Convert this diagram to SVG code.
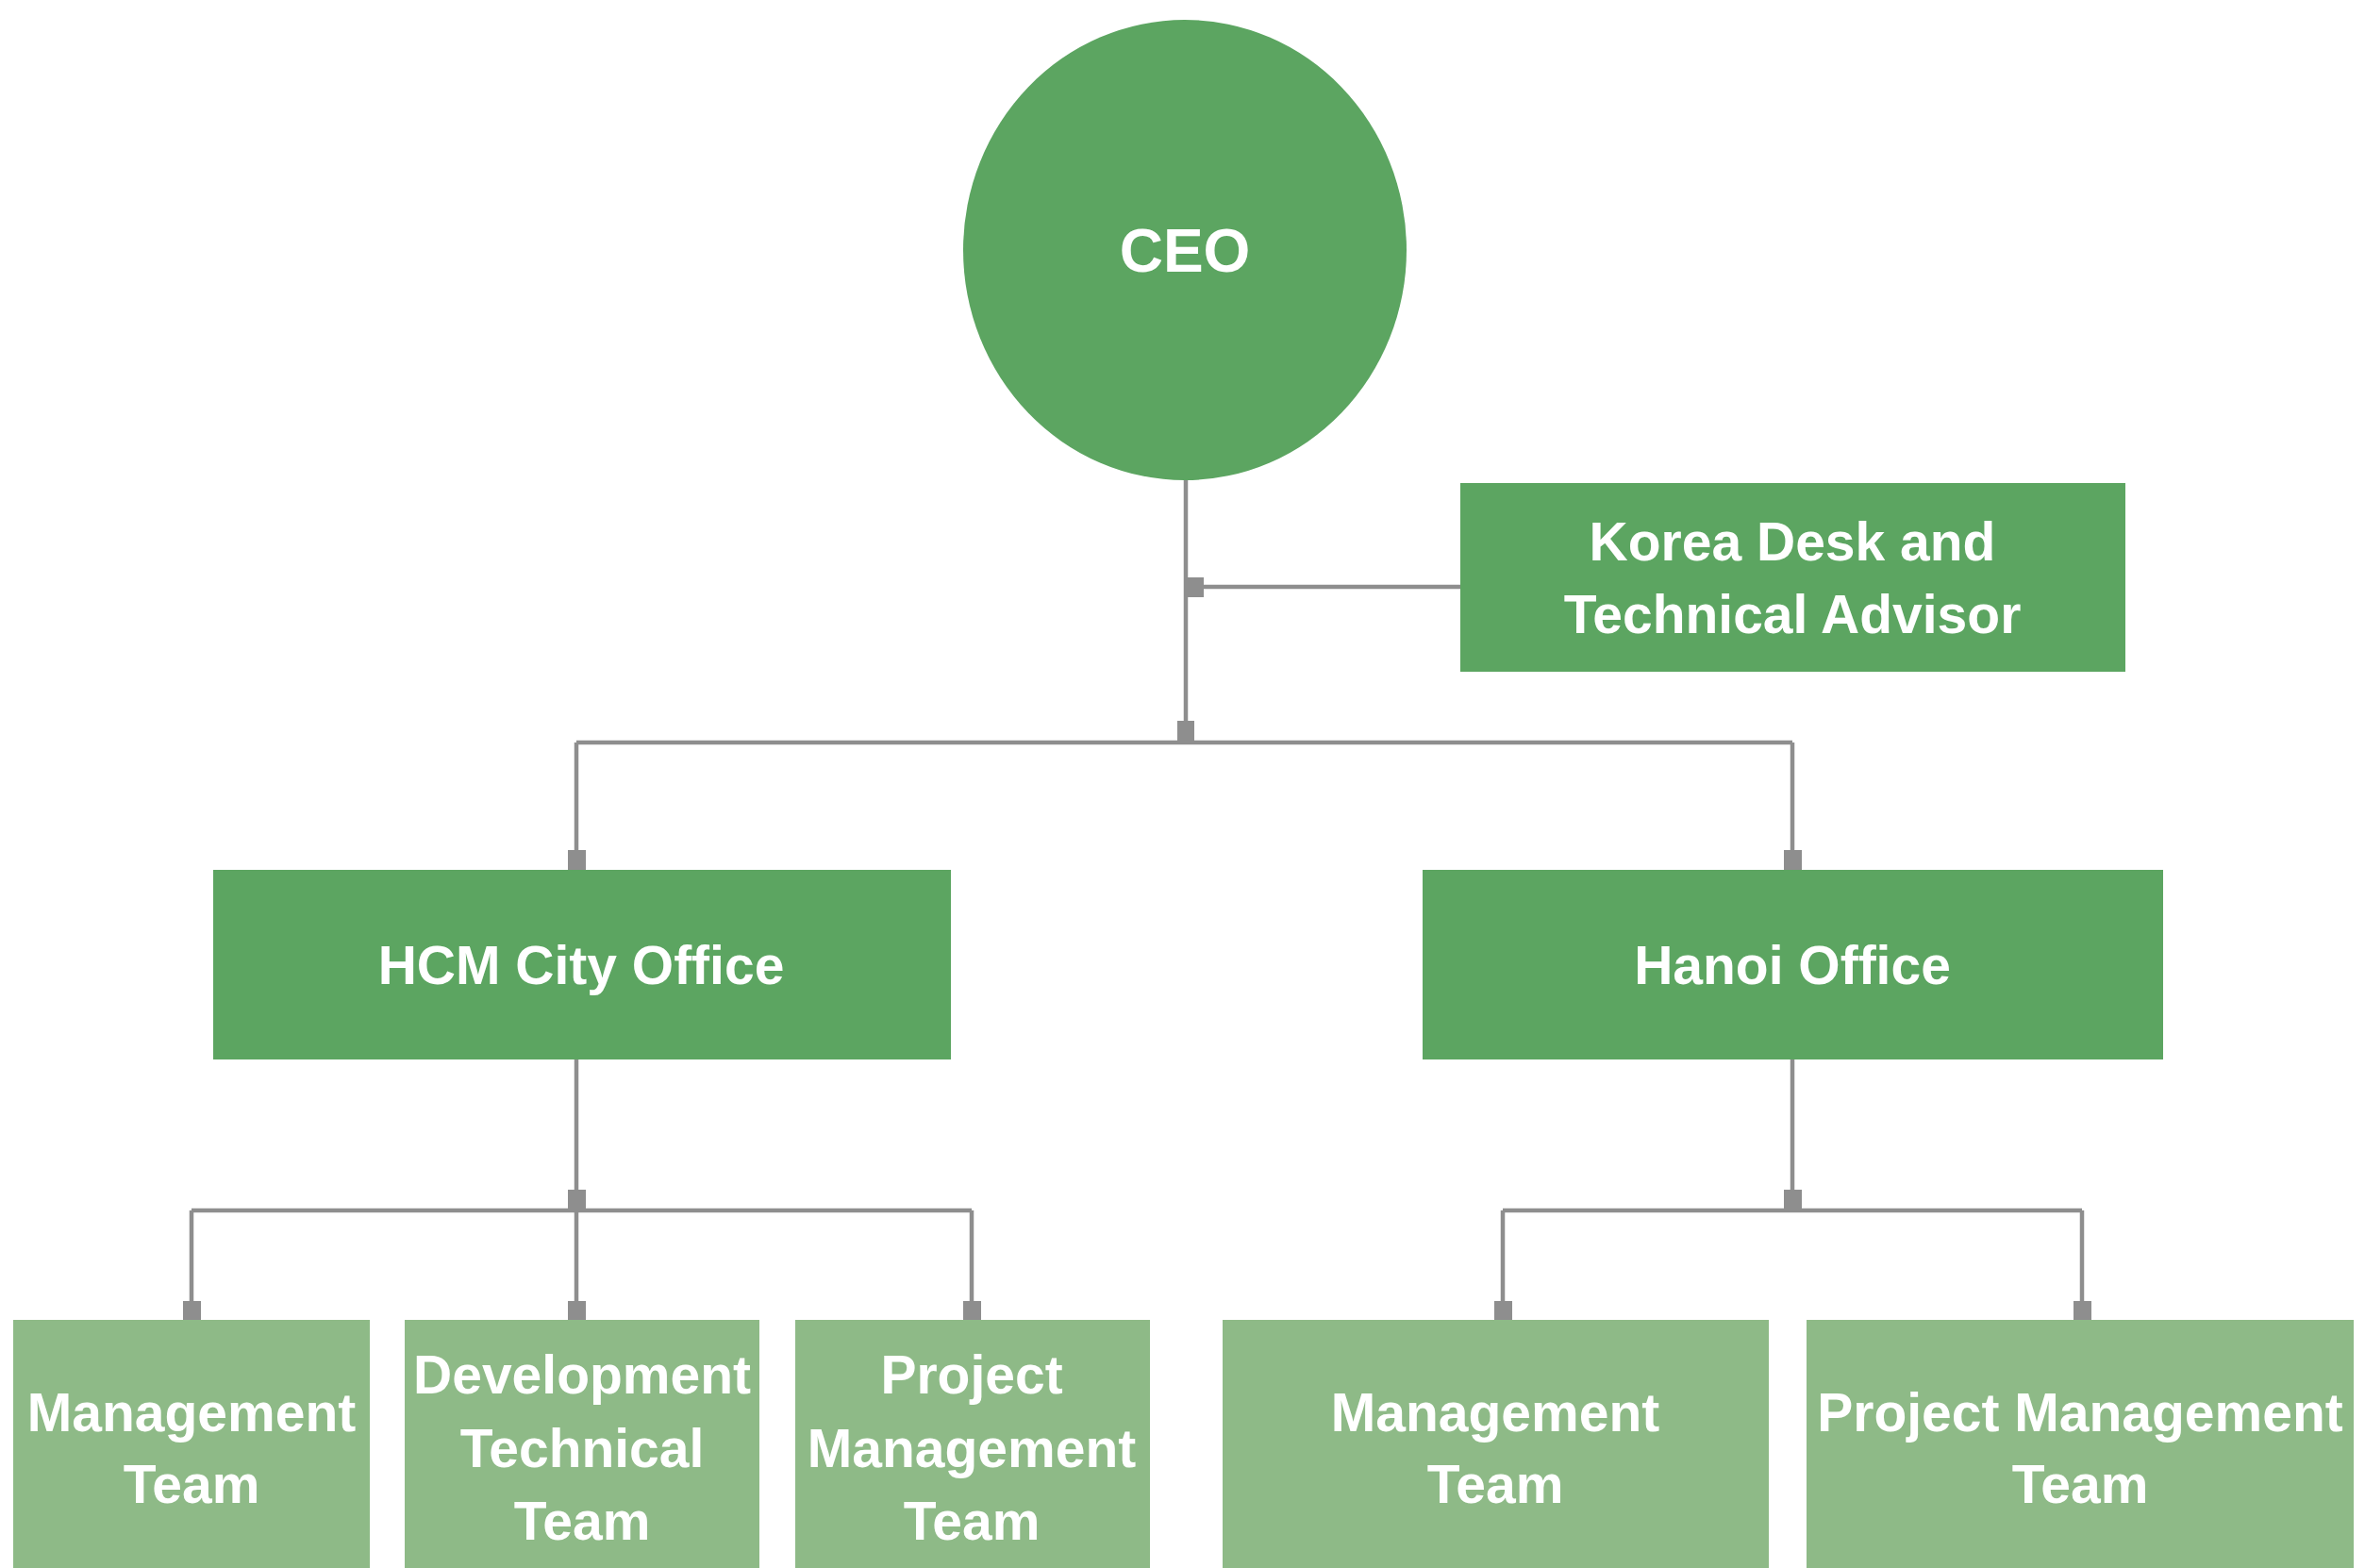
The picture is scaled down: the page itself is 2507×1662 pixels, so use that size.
<svg xmlns="http://www.w3.org/2000/svg" width="2507" height="1662" viewBox="0 0 2507 1662">
<style>
.dark{fill:#5CA561}
.light{fill:#8EBA87}
.t{font-family:"Liberation Sans",Arial,sans-serif;font-weight:bold;font-size:57px;fill:#FFFFFF;text-anchor:middle}
.big{font-size:64px}
.ln{stroke:#8E8E8E;stroke-width:4.5;fill:none}
.mk{fill:#8E8E8E}
</style>
<rect width="2507" height="1662" fill="#FFFFFF"/>
<g id="connectors">
<path class="ln" d="M1257 505 V787"/>
<path class="ln" d="M611 787 H1900"/>
<path class="ln" d="M611 787 V923 M1900 787 V923"/>
<path class="ln" d="M1257 622 H1548"/>
<path class="ln" d="M611 1122 V1283 M203 1283 H1030 M203 1283 V1399 M611 1283 V1399 M1030 1283 V1399"/>
<path class="ln" d="M1900 1122 V1283 M1593 1283 H2207 M1593 1283 V1399 M2207 1283 V1399"/>
<rect class="mk" x="1257" y="612" width="19" height="21"/>
<rect class="mk" x="1248" y="764" width="18" height="21"/>
<rect class="mk" x="602" y="901" width="19" height="22"/>
<rect class="mk" x="1891" y="901" width="19" height="22"/>
<rect class="mk" x="602" y="1261" width="19" height="22"/>
<rect class="mk" x="1891" y="1261" width="19" height="22"/>
<rect class="mk" x="194" y="1379" width="19" height="22"/>
<rect class="mk" x="602" y="1379" width="19" height="22"/>
<rect class="mk" x="1021" y="1379" width="19" height="22"/>
<rect class="mk" x="1584" y="1379" width="19" height="22"/>
<rect class="mk" x="2198" y="1379" width="19" height="22"/>
</g>
<g id="ceo">
<ellipse class="dark" cx="1256" cy="265" rx="235" ry="244"/>
<text class="t big" x="1256" y="288">CEO</text>
</g>
<g id="korea-desk">
<rect class="dark" x="1548" y="512" width="705" height="200"/>
<text class="t" x="1900" y="594">Korea Desk and</text>
<text class="t" x="1900" y="671">Technical Advisor</text>
</g>
<g id="hcm-office">
<rect class="dark" x="226" y="922" width="782" height="201"/>
<text class="t" x="616" y="1043">HCM City Office</text>
</g>
<g id="hanoi-office">
<rect class="dark" x="1508" y="922" width="785" height="201"/>
<text class="t" x="1900" y="1043">Hanoi Office</text>
</g>
<g id="hcm-management">
<rect class="light" x="14" y="1399" width="378" height="263"/>
<text class="t" x="203" y="1517">Management</text>
<text class="t" x="203" y="1593">Team</text>
</g>
<g id="hcm-development">
<rect class="light" x="429" y="1399" width="376" height="263"/>
<text class="t" x="617" y="1477">Development</text>
<text class="t" x="617" y="1555">Technical</text>
<text class="t" x="617" y="1632">Team</text>
</g>
<g id="hcm-project">
<rect class="light" x="843" y="1399" width="376" height="263"/>
<text class="t" x="1030" y="1477">Project</text>
<text class="t" x="1030" y="1555">Management</text>
<text class="t" x="1030" y="1632">Team</text>
</g>
<g id="hanoi-management">
<rect class="light" x="1296" y="1399" width="579" height="263"/>
<text class="t" x="1585" y="1517">Management</text>
<text class="t" x="1585" y="1593">Team</text>
</g>
<g id="hanoi-project">
<rect class="light" x="1915" y="1399" width="580" height="263"/>
<text class="t" x="2205" y="1517">Project Management</text>
<text class="t" x="2205" y="1593">Team</text>
</g>
</svg>
